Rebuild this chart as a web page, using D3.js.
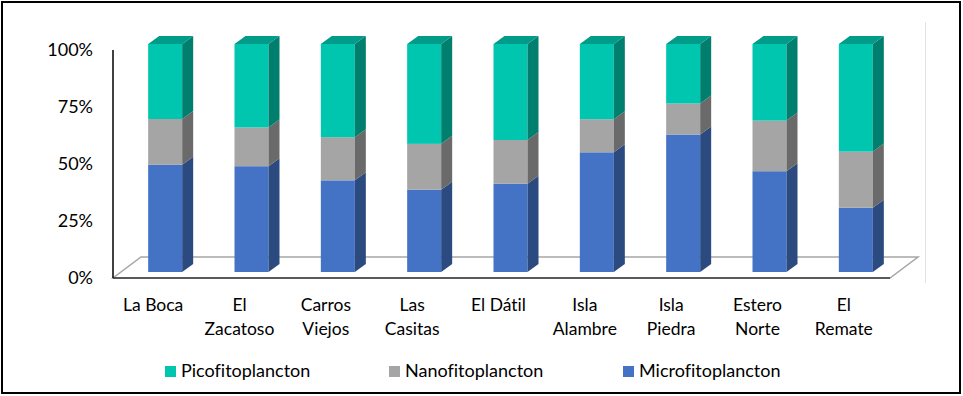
<!DOCTYPE html>
<html>
<head>
<meta charset="utf-8">
<script src="https://cdn.jsdelivr.net/npm/d3@7"></script>
<style>
  body { margin: 0; background: #fff; }
  text { font-family: Lato, "Open Sans", sans-serif; fill: #000; font-variant-ligatures: none; }
</style>
</head>
<body>
<svg id="chart" width="963" height="396"></svg>
<script>
// data (shares of each site)
var categories = ['La Boca', 'El Zacatoso', 'Carros Viejos', 'Las Casitas', 'El Dátil',
    'Isla Alambre', 'Isla Piedra', 'Estero Norte', 'El Remate']
var micro = [47.0, 46.4, 40.2, 36.1, 38.7, 52.5, 60.3, 44.2, 28.2]
var nano = [20.1, 17.0, 18.9, 20.1, 19.2, 14.5, 13.6, 22.2, 24.6]
var pico = [32.9, 36.6, 40.9, 43.8, 42.1, 33.0, 26.1, 33.6, 47.2]
var seriesNames = ['Microfitoplancton', 'Nanofitoplancton', 'Picofitoplancton']
var yTicks = [0, 0.25, 0.5, 0.75, 1]

drawChart()

function drawChart() {
    var svg = d3.select('#chart')

    // colours: front face, side face, top face
    var colors = {
        Picofitoplancton: { front: '#00C5AF', side: '#007F6F', top: '#009B89' },
        Nanofitoplancton: { front: '#A5A5A5', side: '#6A6A6A', top: '#8A8A8A' },
        Microfitoplancton: { front: '#4472C4', side: '#2B4A80', top: '#36599C' }
    }

    // front plane of the 3d box
    var left = 113, right = 890, bottom = 278, top = 50
    var floorDx = 28, floorDy = -21     // back edge of floor
    var barDx = 9, barDy = -6           // bar front face shift
    var depthDx = 11, depthDy = -8      // bar thickness
    var barWidth = 34

    var x = d3.scaleBand().domain(categories).range([left, right])
    var y = d3.scaleLinear().domain([0, 1]).range([bottom, top])

    // outer frame
    svg.append('rect')
        .attr('x', 2).attr('y', 2)
        .attr('width', 958).attr('height', 391)
        .attr('fill', 'none').attr('stroke', '#000').attr('stroke-width', 2)

    // plot area right border
    svg.append('line')
        .attr('x1', 925.5).attr('x2', 925.5).attr('y1', 22).attr('y2', 283)
        .attr('stroke', '#e2e2e2').attr('stroke-width', 1)

    // floor
    var floorPts = [[left, bottom], [right, bottom], [right + floorDx, bottom + floorDy], [left + floorDx, bottom + floorDy]]
    svg.append('polygon')
        .attr('points', floorPts.map(p => p.join(',')).join(' '))
        .attr('fill', '#fff').attr('stroke', '#a6a6a6').attr('stroke-width', 1.5)
    svg.append('line')
        .attr('x1', left).attr('x2', right).attr('y1', bottom).attr('y2', bottom)
        .attr('stroke', '#595959').attr('stroke-width', 2)

    // y axis
    svg.append('line')
        .attr('x1', left).attr('x2', left).attr('y1', top).attr('y2', bottom)
        .attr('stroke', '#000').attr('stroke-width', 1.5)

    svg.selectAll('.ytick')
        .data(yTicks)
    .enter().append('text')
        .attr('class', 'ytick')
        .attr('x', 93)
        .attr('y', d => y(d))
        .attr('dy', '0.35em')
        .attr('text-anchor', 'end')
        .style('font-size', '18px')
        .text(d3.format('.0%'))

    // stack the series
    var rows = categories.map((c, i) => ({
        cat: c,
        Microfitoplancton: micro[i] / 100,
        Nanofitoplancton: nano[i] / 100,
        Picofitoplancton: pico[i] / 100
    }))
    var stacked = d3.stack().keys(seriesNames)(rows)

    stacked.forEach(function (layer, li) {
        var key = layer.key
        var g = svg.append('g').attr('class', 'series')
        layer.forEach(function (d) {
            var x0 = x(d.data.cat) + x.bandwidth() / 2 + barDx - barWidth / 2
            var x1 = x0 + barWidth
            var yTop = y(d[1]) + barDy
            var yBot = y(d[0]) + barDy

            // front face
            g.append('rect')
                .attr('x', x0).attr('y', yTop)
                .attr('width', barWidth).attr('height', yBot - yTop)
                .attr('fill', colors[key].front)

            // side face
            var side = [[x1, yTop], [x1 + depthDx, yTop + depthDy], [x1 + depthDx, yBot + depthDy], [x1, yBot]]
            g.append('polygon')
                .attr('points', side.map(p => p.join(',')).join(' '))
                .attr('fill', colors[key].side)

            // top face only on the last series
            if (li === stacked.length - 1) {
                var topFace = [[x0, yTop], [x1, yTop], [x1 + depthDx, yTop + depthDy], [x0 + depthDx, yTop + depthDy]]
                g.append('polygon')
                    .attr('points', topFace.map(p => p.join(',')).join(' '))
                    .attr('fill', colors[key].top)
            }
        })
    })

    // category labels, wrapped when too long
    categories.forEach(function (c) {
        var cx = x(c) + x.bandwidth() / 2 - 3
        var t = svg.append('text')
            .attr('x', cx).attr('y', 311)
            .attr('text-anchor', 'middle')
            .style('font-size', '17.5px')
            .text(c)
        if (t.node().getComputedTextLength() > 70) {
            var words = c.split(' ')
            t.text(null)
            t.append('tspan').attr('x', cx).attr('y', 311).text(words[0])
            t.append('tspan').attr('x', cx).attr('y', 335).text(words.slice(1).join(' '))
        }
    })

    // legend
    var legendItems = ['Picofitoplancton', 'Nanofitoplancton', 'Microfitoplancton']
    var legendX = [165, 389, 623]
    legendItems.forEach(function (k, i) {
        svg.append('rect')
            .attr('x', legendX[i]).attr('y', 366)
            .attr('width', 11).attr('height', 11)
            .attr('fill', colors[k].front)
        svg.append('text')
            .attr('x', legendX[i] + 16).attr('y', 377)
            .style('font-size', '18px')
            .text(k)
    })
}
</script>
</body>
</html>
